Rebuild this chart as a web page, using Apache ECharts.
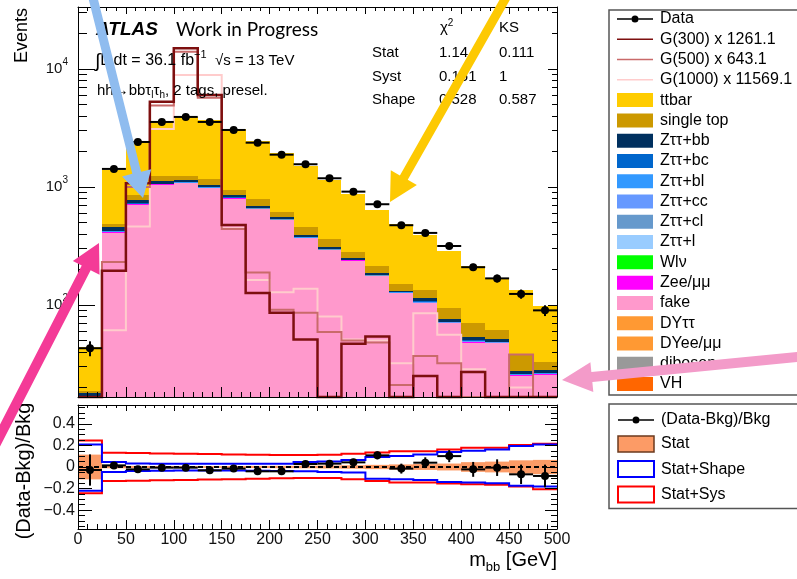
<!DOCTYPE html>
<html>
<head>
<meta charset="utf-8">
<script src="https://cdn.jsdelivr.net/npm/echarts@6/dist/echarts.min.js"></script>
<style>
  html, body { margin: 0; padding: 0; background: #fff; }
  #chart { width: 797px; height: 579px; }
</style>
</head>
<body>
<div id="chart"></div>
<script>
// m_bb distribution, 25 GeV bins between 0 and 500 GeV
const binEdges = [0, 25, 50, 75, 100, 125, 150, 175, 200, 225, 250, 275, 300, 325, 350, 375, 400, 425, 450, 475, 500];

// observed events per bin
const dataCounts = [43, 1422, 2406, 3556, 3921, 3556, 3041, 2373, 1878, 1558, 1185, 913, 714, 474, 408, 316, 209, 168, 124, 90];

// background processes (events per bin)
const ttbar     = [25, 915, 1605, 2347, 2707, 2509, 2143, 1685, 1338, 1061, 789, 592, 430, 330, 258, 193, 144, 108, 95, 65];
const singleTop = [0.8, 25, 79, 115, 95, 121, 89, 97, 64, 63, 52, 34, 26, 19, 20, 18, 17, 10, 10, 5];
const zttBB     = [2.4, 33.6, 43.2, 45, 40.8, 39, 38.4, 23.4, 17.4, 15, 9.6, 7.2, 7.2, 3.6, 6.6, 3.4, 3.1, 2.3, 1.5, 1.4];
const zttBC     = [0.56, 7.8, 10.1, 10.5, 9.5, 9.1, 9, 5.5, 4.1, 3.5, 2.2, 1.7, 1.7, 0.84, 1.5, 0.8, 0.73, 0.55, 0.35, 0.34];
const zttBL     = [0.2, 2.8, 3.6, 3.8, 3.4, 3.3, 3.2, 2, 1.5, 1.25, 0.8, 0.6, 0.6, 0.3, 0.55, 0.29, 0.26, 0.2, 0.13, 0.12];
const zttCC     = [0.12, 1.7, 2.2, 2.3, 2, 2, 1.9, 1.2, 0.9, 0.75, 0.5, 0.36, 0.36, 0.18, 0.33, 0.17, 0.16, 0.12, 0.08, 0.07];
const zttCL     = [0.08, 1.1, 1.4, 1.5, 1.4, 1.3, 1.3, 0.8, 0.6, 0.5, 0.3, 0.24, 0.24, 0.12, 0.22, 0.11, 0.1, 0.08, 0.05, 0.05];
const zttL      = [0.1, 1.2, 1.5, 1.4, 1.3, 1.3, 1.2, 0.75, 0.55, 0.5, 0.32, 0.23, 0.25, 0.11, 0.2, 0.12, 0.1, 0.07, 0.05, 0.05];
const wlv       = [0.04, 0.56, 0.7, 0.75, 0.7, 0.65, 0.64, 0.4, 0.3, 0.25, 0.16, 0.12, 0.12, 0.06, 0.11, 0.06, 0.05, 0.04, 0.03, 0.02];
const zeeMuMu   = [0.5, 7.3, 9.4, 9.8, 8.8, 8.5, 8.3, 5.1, 3.8, 3.3, 2.1, 1.6, 1.6, 0.8, 1.4, 0.74, 0.68, 0.5, 0.33, 0.31];
const fake      = [13, 398, 693, 1026, 1061, 964, 783, 645, 521, 364, 290, 235, 174, 125, 102, 69, 47.4, 46.8, 24.8, 25.3];
const dyTauTau  = [0.2, 1, 1.2, 1, 0.8, 0.6, 0.5, 0.4, 0.3, 0.2, 0.15, 0.1, 0.1, 0.08, 0.06, 0.05, 0.04, 0.03, 0.02, 0.02];
const dyEeMuMu  = [0.1, 0.5, 0.6, 0.5, 0.4, 0.3, 0.25, 0.2, 0.15, 0.1, 0.08, 0.06, 0.05, 0.04, 0.03, 0.02, 0.02, 0.02, 0.01, 0.01];
const diboson   = [0.5, 4, 6, 7, 7, 6, 5, 4, 3, 2.5, 2, 1.6, 1.3, 1, 0.8, 0.7, 0.5, 0.4, 0.3, 0.3];
const vh        = [0.2, 1.5, 3, 5, 6, 4, 2, 1, 0.6, 0.4, 0.3, 0.2, 0.15, 0.1, 0.1, 0.1, 0.08, 0.06, 0.05, 0.04];

// scaled signal hypotheses
const g300  = [0, 195, 1075, 5285, 14970, 6026, 476, 126, 86, 51, 0, 47, 54, 0, 25, 0, 27, 0, 0, 0];
const g500  = [0, 231, 1000, 4900, 14000, 5700, 440, 188, 91, 86, 59, 50, 48, 21, 37, 32, 0, 0, 38, 0];
const g1000 = [0, 61, 462, 3100, 8900, 8900, 447, 163, 128, 137, 80, 51, 50, 32, 85, 56, 28.5, 0, 20, 0];

// ratio panel: (Data-Bkg)/Bkg, its error, and uncertainty envelopes
const ratioVals = [-0.028, 0.015, -0.022, -0.006, -0.006, -0.031, -0.015, -0.04, -0.04, 0.028, 0.031, 0.043, 0.108, -0.015, 0.04, 0.101, -0.022, -0.006, -0.068, -0.083];
const ratioErr  = [0.145, 0.027, 0.02, 0.017, 0.016, 0.017, 0.018, 0.021, 0.023, 0.025, 0.029, 0.033, 0.037, 0.046, 0.05, 0.056, 0.069, 0.077, 0.09, 0.105];
const statBand  = [0.115, 0.012, 0.01, 0.008, 0.008, 0.008, 0.009, 0.01, 0.011, 0.012, 0.014, 0.016, 0.02, 0.024, 0.027, 0.032, 0.045, 0.05, 0.062, 0.066];
const shapeUp   = [0.209, 0.046, 0.033, 0.031, 0.03, 0.03, 0.03, 0.03, 0.03, 0.046, 0.052, 0.065, 0.092, 0.101, 0.117, 0.138, 0.15, 0.163, 0.194, 0.209];
const shapeDown = [-0.221, -0.046, -0.037, -0.035, -0.033, -0.033, -0.033, -0.035, -0.037, -0.04, -0.046, -0.052, -0.108, -0.114, -0.12, -0.138, -0.144, -0.15, -0.175, -0.181];
const sysUp     = [0.246, 0.132, 0.13, 0.126, 0.124, 0.12, 0.117, 0.114, 0.111, 0.111, 0.113, 0.123, 0.135, 0.147, 0.147, 0.163, 0.178, 0.178, 0.203, 0.215];
const sysDown   = [-0.243, -0.129, -0.127, -0.124, -0.12, -0.117, -0.113, -0.108, -0.105, -0.101, -0.101, -0.114, -0.129, -0.144, -0.144, -0.154, -0.16, -0.165, -0.181, -0.206];

// axis tick positions and labels
const xMajor = [0, 50, 100, 150, 200, 250, 300, 350, 400, 450, 500];
const yLogMajor = [100, 1000, 10000];
const ratioMajor = [-0.4, -0.2, 0, 0.2, 0.4];

const FONT = '"Liberation Sans", Arial, Helvetica, sans-serif';
const YMIN = 16.6, YMAX = 33500;
const RMIN = -0.575, RMAX = 0.575;
const nBins = binEdges.length - 1;
const centers = binEdges.slice(0, -1).map((e, i) => (e + binEdges[i + 1]) / 2);

// minor tick positions
const xMinor = [];
for (let v = 0; v <= 500; v += 10) if (v % 50 !== 0) xMinor.push(v);
const yLogMinor = [];
[10, 100, 1000, 10000].forEach(d => { for (let m = 2; m <= 9; m++) if (d * m > YMIN && d * m < YMAX) yLogMinor.push(d * m); });
const ratioMinor = [];
for (let k = -11; k <= 11; k++) if (k % 4 !== 0) ratioMinor.push(+(k * 0.05).toFixed(2));

// stacking order, bottom first
const stackOrder = [
  ['VH', vh, '#ff6600'],
  ['diboson', diboson, '#999999'],
  ['DYee/μμ', dyEeMuMu, '#ff9933'],
  ['DYττ', dyTauTau, '#ff9933'],
  ['fake', fake, '#ff99cc'],
  ['Zee/μμ', zeeMuMu, '#ff00ff'],
  ['Wlν', wlv, '#00ff00'],
  ['Zττ+l', zttL, '#99ccff'],
  ['Zττ+cl', zttCL, '#6699cc'],
  ['Zττ+cc', zttCC, '#6699ff'],
  ['Zττ+bl', zttBL, '#3399ff'],
  ['Zττ+bc', zttBC, '#0066cc'],
  ['Zττ+bb', zttBB, '#00305f'],
  ['single top', singleTop, '#cc9900'],
  ['ttbar', ttbar, '#ffcc00']
];
const stackBase = [];
let running = new Array(nBins).fill(0);
stackOrder.forEach(p => {
  stackBase.push(running.slice());
  running = running.map((r, i) => r + p[1][i]);
});

const signals = [
  ['G(1000) x 11569.1', g1000, '#ffcccc', 2],
  ['G(500) x 643.1', g500, '#c96a6a', 2],
  ['G(300) x 1261.1', g300, '#7d0f0f', 2.5]
];

const series = [];

// stacked backgrounds
stackOrder.forEach(([name, vals, color], k) => {
  series.push({
    type: 'custom', name, xAxisIndex: 0, yAxisIndex: 0, z: 2,
    itemStyle: { color },
    encode: { x: 0, y: 1 },
    data: vals.map((v, i) => [centers[i], Math.max(v, 0.001)]),
    renderItem: (params, api) => {
      const i = params.dataIndex;
      const lo = stackBase[k][i], hi = lo + vals[i];
      if (hi <= YMIN) return null;
      const a = api.coord([binEdges[i], Math.min(hi, YMAX)]);
      const b = api.coord([binEdges[i + 1], Math.max(lo, YMIN)]);
      const x0 = Math.round(a[0]), x1 = Math.round(b[0]);
      const y0 = Math.round(a[1]), y1 = Math.round(b[1]);
      if (y1 - y0 <= 0) return null;
      return { type: 'rect', shape: { x: x0, y: y0, width: x1 - x0, height: y1 - y0 }, style: { fill: color } };
    }
  });
});

// signal outlines
signals.forEach(([name, vals, color, w]) => {
  series.push({
    type: 'custom', name, xAxisIndex: 0, yAxisIndex: 0, z: 3,
    itemStyle: { color },
    encode: { x: 0, y: 1 },
    data: [[250, 100]],
    renderItem: (params, api) => {
      const pts = [api.coord([binEdges[0], YMIN])];
      vals.forEach((v, i) => {
        const y = Math.min(Math.max(v, YMIN), YMAX);
        pts.push(api.coord([binEdges[i], y]));
        pts.push(api.coord([binEdges[i + 1], y]));
      });
      pts.push(api.coord([binEdges[nBins], YMIN]));
      return { type: 'polyline', shape: { points: pts }, style: { stroke: color, lineWidth: w, fill: null } };
    }
  });
});

// data points with errors
series.push({
  type: 'custom', name: 'Data', xAxisIndex: 0, yAxisIndex: 0, z: 4,
  itemStyle: { color: '#000' },
  encode: { x: 0, y: 1 },
  data: dataCounts.map((v, i) => [centers[i], v]),
  renderItem: (params, api) => {
    const i = params.dataIndex;
    const v = dataCounts[i], e = ratioErr[i] * v;
    const c = api.coord([centers[i], v]);
    const l = api.coord([binEdges[i], v]), r = api.coord([binEdges[i + 1], v]);
    const up = api.coord([centers[i], Math.min(v + e, YMAX)]);
    const dn = api.coord([centers[i], Math.max(v - e, YMIN)]);
    return { type: 'group', children: [
      { type: 'line', shape: { x1: l[0], y1: c[1], x2: r[0], y2: c[1] }, style: { stroke: '#000', lineWidth: 2 } },
      { type: 'line', shape: { x1: c[0], y1: up[1], x2: c[0], y2: dn[1] }, style: { stroke: '#000', lineWidth: 2 } },
      { type: 'circle', shape: { cx: c[0], cy: c[1], r: 4 }, style: { fill: '#000' } }
    ] };
  }
});

// ratio panel: statistical band
series.push({
  type: 'custom', name: 'Stat', xAxisIndex: 4, yAxisIndex: 4, z: 2,
  itemStyle: { color: '#fc9b66' },
  encode: { x: 0, y: 1 },
  data: statBand.map((v, i) => [centers[i], 0]),
  renderItem: (params, api) => {
    const i = params.dataIndex;
    const a = api.coord([binEdges[i], statBand[i]]);
    const b = api.coord([binEdges[i + 1], -statBand[i]]);
    const x0 = Math.round(a[0]), x1 = Math.round(b[0]);
    return { type: 'rect', shape: { x: x0, y: a[1], width: x1 - x0, height: b[1] - a[1] }, style: { fill: '#fc9b66' } };
  }
});

// ratio panel: envelope outlines
function envelopeSeries(name, up, down, color) {
  return {
    type: 'custom', name, xAxisIndex: 4, yAxisIndex: 4, z: 3,
    itemStyle: { color },
    encode: { x: 0, y: 1 },
    data: [[250, 0]],
    renderItem: (params, api) => {
      const mk = arr => {
        const pts = [];
        arr.forEach((v, i) => {
          pts.push(api.coord([binEdges[i], v]));
          pts.push(api.coord([binEdges[i + 1], v]));
        });
        return { type: 'polyline', shape: { points: pts }, style: { stroke: color, lineWidth: 2, fill: null } };
      };
      return { type: 'group', children: [mk(up), mk(down)] };
    }
  };
}
series.push(envelopeSeries('Stat+Sys', sysUp, sysDown, '#ff0000'));
series.push(envelopeSeries('Stat+Shape', shapeUp, shapeDown, '#0000ff'));

// zero reference
series.push({
  type: 'line', name: 'zero', xAxisIndex: 4, yAxisIndex: 4, z: 3, silent: true,
  symbol: 'none', data: [[0, 0], [500, 0]],
  lineStyle: { color: '#000', width: 2, type: [5, 3] }
});

// ratio points
series.push({
  type: 'custom', name: '(Data-Bkg)/Bkg', xAxisIndex: 4, yAxisIndex: 4, z: 4,
  itemStyle: { color: '#000' },
  encode: { x: 0, y: 1 },
  data: ratioVals.map((v, i) => [centers[i], v]),
  renderItem: (params, api) => {
    const i = params.dataIndex;
    const v = ratioVals[i], e = ratioErr[i];
    const c = api.coord([centers[i], v]);
    const l = api.coord([binEdges[i], v]), r = api.coord([binEdges[i + 1], v]);
    const up = api.coord([centers[i], v + e]), dn = api.coord([centers[i], v - e]);
    return { type: 'group', children: [
      { type: 'line', shape: { x1: l[0], y1: c[1], x2: r[0], y2: c[1] }, style: { stroke: '#000', lineWidth: 2 } },
      { type: 'line', shape: { x1: c[0], y1: up[1], x2: c[0], y2: dn[1] }, style: { stroke: '#000', lineWidth: 2 } },
      { type: 'circle', shape: { cx: c[0], cy: c[1], r: 4 }, style: { fill: '#000' } }
    ] };
  }
});

// axes
const black = { color: '#000', width: 1 };
function xAx(grid, pos, ticks, len, withLine, labels) {
  return {
    type: 'value', gridIndex: grid, position: pos, min: 0, max: 500, z: 10,
    axisLine: { show: withLine, onZero: false, lineStyle: black },
    axisTick: { show: true, inside: true, length: len, customValues: ticks, lineStyle: black },
    axisLabel: labels ? { show: true, customValues: xMajor, fontSize: 16, fontFamily: FONT, color: '#111', margin: 3 } : { show: false },
    splitLine: { show: false }
  };
}
function yLog(pos, ticks, len, withLine, labels) {
  return {
    type: 'log', logBase: 10, gridIndex: 0, position: pos, min: YMIN, max: YMAX, z: 10,
    axisLine: { show: withLine, onZero: false, lineStyle: black },
    axisTick: { show: true, inside: true, length: len, customValues: ticks, lineStyle: black },
    axisLabel: labels ? {
      show: true, customValues: yLogMajor, margin: 10,
      formatter: v => '{b|10}{s|' + Math.round(Math.log10(v)) + '}',
      rich: {
        b: { fontSize: 15, fontFamily: FONT, color: '#111', lineHeight: 24, verticalAlign: 'middle' },
        s: { fontSize: 10, fontFamily: FONT, color: '#111', lineHeight: 10, verticalAlign: 'top' }
      }
    } : { show: false },
    splitLine: { show: false }
  };
}
function yRatio(pos, ticks, len, withLine, labels) {
  return {
    type: 'value', gridIndex: 1, position: pos, min: RMIN, max: RMAX, z: 10,
    axisLine: { show: withLine, onZero: false, lineStyle: black },
    axisTick: { show: true, inside: true, length: len, customValues: ticks, lineStyle: black },
    axisLabel: labels ? {
      show: true, customValues: ratioMajor, fontSize: 16, fontFamily: FONT, color: '#111', margin: 3,
      formatter: v => (Math.abs(v) < 1e-9 ? '0' : (v < 0 ? '\u2212' : '') + Math.abs(v).toFixed(1))
    } : { show: false },
    splitLine: { show: false }
  };
}

// text helpers (sequential runs for sub/superscripts)
const measureCtx = document.createElement('canvas').getContext('2d');
function textWidth(t, font) { measureCtx.font = font; return measureCtx.measureText(t).width; }
function runs(x, y, parts, alignRight) {
  const widths = parts.map(p => textWidth(p.t, p.font));
  let cx = alignRight ? x - widths.reduce((a, b) => a + b, 0) : x;
  return parts.map((p, i) => {
    const el = { type: 'text', z: 50, x: cx, y: y + (p.dy || 0),
      style: { text: p.t, font: p.font, fill: '#000', align: 'left', verticalAlign: 'middle' } };
    cx += widths[i];
    return el;
  });
}
const f = (px, extra) => (extra ? extra + ' ' : '') + px + 'px ' + FONT;

function arrow(tx, ty, hx, hy, w, L, W, color) {
  const dx = hx - tx, dy = hy - ty, len = Math.hypot(dx, dy);
  const ux = dx / len, uy = dy / len, px = -uy, py = ux;
  const bx = hx - ux * L, by = hy - uy * L;
  return { type: 'polygon', z: 100, silent: true, shape: { points: [
    [tx + px * w / 2, ty + py * w / 2], [bx + px * w / 2, by + py * w / 2], [bx + px * W / 2, by + py * W / 2],
    [hx, hy], [bx - px * W / 2, by - py * W / 2], [bx - px * w / 2, by - py * w / 2], [tx - px * w / 2, ty - py * w / 2]
  ] }, style: { fill: color } };
}

const graphics = [].concat(
  runs(96, 30, [{ t: 'ATLAS', font: f(19, 'italic bold') }]),
  [{ type: 'text', z: 50, x: 176, y: 30, style: { text: 'Work in Progress', font: '19px Lato, "Open Sans", sans-serif', fill: '#000', verticalAlign: 'middle' } }],
  runs(95, 61, [
    { t: '\u222B', font: f(19), dy: 1 }, { t: 'L dt = 36.1 fb', font: f(16) },
    { t: '\u22121', font: f(11), dy: -6 }, { t: '  \u221As = 13 TeV', font: f(15) }
  ]),
  runs(97, 91, [
    { t: 'hh\u2192bb\u03C4', font: f(15) }, { t: 'l', font: f(10), dy: 4 },
    { t: '\u03C4', font: f(15) }, { t: 'h', font: f(10), dy: 4 }, { t: ', 2 tags, presel.', font: f(15) }
  ]),
  runs(440, 28, [{ t: '\u03C7', font: f(15) }, { t: '2', font: f(10), dy: -5 }]),
  runs(499, 28, [{ t: 'KS', font: f(15) }]),
  runs(372, 52.5, [{ t: 'Stat', font: f(15) }]),
  runs(439, 52.5, [{ t: '1.14', font: f(15) }]),
  runs(499, 52.5, [{ t: '0.111', font: f(15) }]),
  runs(372, 77, [{ t: 'Syst', font: f(15) }]),
  runs(439, 77, [{ t: '0.161', font: f(15) }]),
  runs(499, 77, [{ t: '1', font: f(15) }]),
  runs(372, 100, [{ t: 'Shape', font: f(15) }]),
  runs(439, 100, [{ t: '0.528', font: f(15) }]),
  runs(499, 100, [{ t: '0.587', font: f(15) }]),
  [
    { type: 'text', z: 50, x: 22, y: 8, rotation: Math.PI / 2,
      style: { text: 'Events', font: f(18), fill: '#000', align: 'right', verticalAlign: 'middle' } },
    { type: 'text', z: 50, x: 24, y: 471, rotation: Math.PI / 2,
      style: { text: '(Data-Bkg)/Bkg', font: f(20), fill: '#000', align: 'center', verticalAlign: 'middle' } }
  ],
  runs(557, 560, [
    { t: 'm', font: f(20) }, { t: 'bb', font: f(13), dy: 7 }, { t: ' [GeV]', font: f(20) }
  ], true),
  [
    arrow(92, -6, 143, 198, 9, 26, 30, '#8fbcef'),
    arrow(508, -6, 390, 202, 9, 28, 30, '#fdc902'),
    arrow(-10, 455, 99, 243, 10, 28, 30, '#f43a97'),
    arrow(802, 356.5, 562, 380, 10, 30, 30, '#f39bc9')
  ]
);

const dotIcon = 'path://M0,0h0.01v0.01h-0.01z M0,14h0.01v-0.01h-0.01z M0,6.25h14.5v1.5h-14.5z M21.5,6.25h14.5v1.5h-14.5z M14.5,7a3.5,3.5 0 1,0 7,0a3.5,3.5 0 1,0 -7,0z';
const lineIcon = 'path://M0,0h0.01v0.01h-0.01z M0,14h0.01v-0.01h-0.01z M0,6.25h36v1.5h-36z';

const topLegendData = [
  { name: 'Data', icon: dotIcon, itemStyle: { color: '#000' } },
  { name: 'G(300) x 1261.1', icon: lineIcon, itemStyle: { color: '#7d0f0f' } },
  { name: 'G(500) x 643.1', icon: lineIcon, itemStyle: { color: '#c96a6a' } },
  { name: 'G(1000) x 11569.1', icon: lineIcon, itemStyle: { color: '#ffcccc' } }
].concat(stackOrder.slice().reverse().map(([name, , color]) => ({ name, icon: 'rect', itemStyle: { color } })));

const option = {
  backgroundColor: '#fff',
  animation: false,
  grid: [
    { left: 78, top: 7, width: 479, height: 390, outerBoundsMode: 'none' },
    { left: 78, top: 405, width: 479, height: 124, outerBoundsMode: 'none' }
  ],
  xAxis: [
    xAx(0, 'bottom', xMajor, 10, true, false),
    xAx(0, 'bottom', xMinor, 5, false, false),
    xAx(0, 'top', xMajor, 7, true, false),
    xAx(0, 'top', xMinor, 4, false, false),
    xAx(1, 'bottom', xMajor, 9, true, true),
    xAx(1, 'bottom', xMinor, 5, false, false),
    xAx(1, 'top', xMajor, 6, true, false),
    xAx(1, 'top', xMinor, 3, false, false)
  ],
  yAxis: [
    yLog('left', yLogMajor, 17, true, true),
    yLog('left', yLogMinor, 9, false, false),
    yLog('right', yLogMajor, 9, true, false),
    yLog('right', yLogMinor, 5, false, false),
    yRatio('left', ratioMajor, 14, true, true),
    yRatio('left', ratioMinor, 7, false, false),
    yRatio('right', ratioMajor, 12, true, false),
    yRatio('right', ratioMinor, 6, false, false)
  ],
  legend: [
    {
      orient: 'vertical', left: 609, top: 10, selectedMode: false,
      padding: [1, 40, 3, 8], itemWidth: 36, itemHeight: 14, itemGap: 4.28,
      borderColor: '#555', borderWidth: 1.5, backgroundColor: '#fff',
      textStyle: { fontFamily: FONT, fontSize: 16, lineHeight: 16, color: '#000', padding: [0, 0, 0, 2] },
      data: topLegendData
    },
    {
      orient: 'vertical', left: 609, top: 404, selectedMode: false,
      padding: [8, 40, 5, 8], itemWidth: 36, itemHeight: 16, itemGap: 7.3,
      borderColor: '#555', borderWidth: 1.5, backgroundColor: '#fff',
      textStyle: { fontFamily: FONT, fontSize: 16, lineHeight: 16, color: '#000', padding: [0, 0, 0, 2] },
      data: [
        { name: '(Data-Bkg)/Bkg', icon: dotIcon, itemStyle: { color: '#000' } },
        { name: 'Stat', icon: 'rect', itemStyle: { color: '#fc9b66', borderColor: '#6b3a1e', borderWidth: 1.5 } },
        { name: 'Stat+Shape', icon: 'rect', itemStyle: { color: '#fff', borderColor: '#0000ff', borderWidth: 2 } },
        { name: 'Stat+Sys', icon: 'rect', itemStyle: { color: '#fff', borderColor: '#ff0000', borderWidth: 2 } }
      ]
    }
  ],
  graphic: graphics,
  series
};

const chart = echarts.init(document.getElementById('chart'), null, { renderer: 'canvas' });
chart.setOption(option);
</script>
</body>
</html>
